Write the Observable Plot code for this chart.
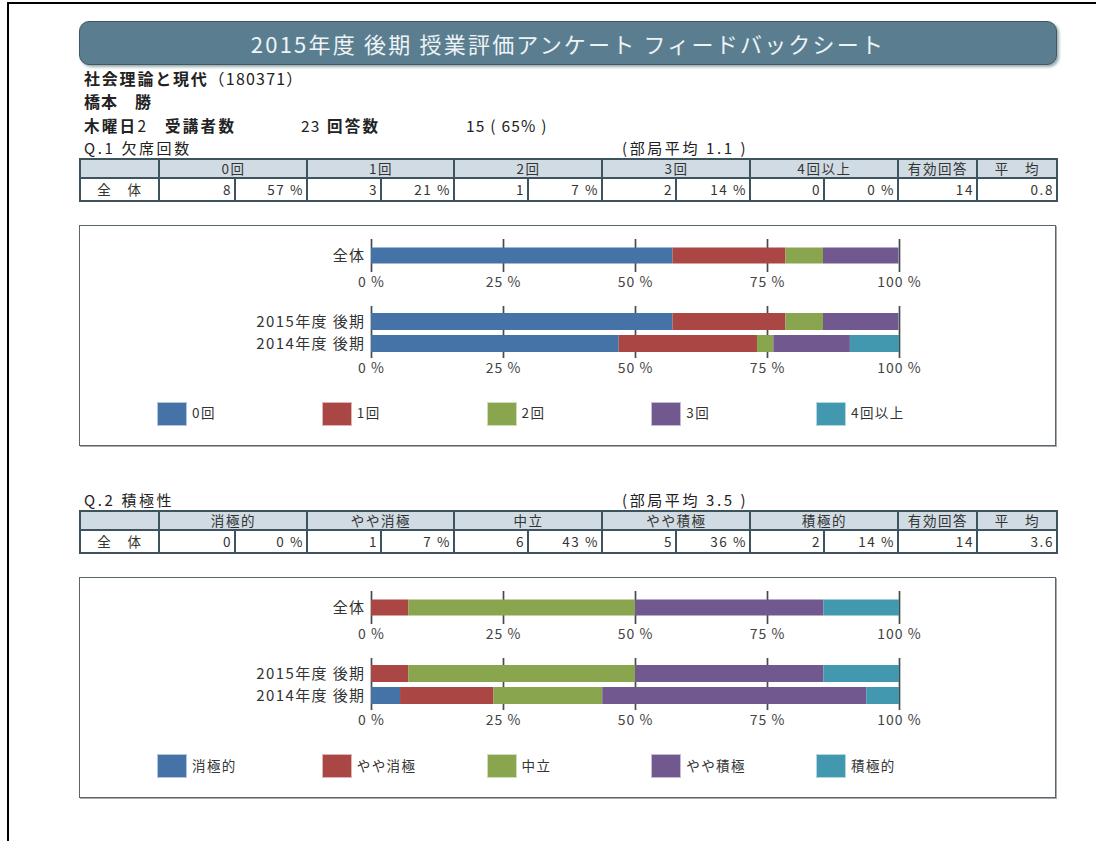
<!DOCTYPE html>
<html><head><meta charset="utf-8">
<script src="https://cdn.jsdelivr.net/npm/d3@7"></script>
<script src="https://cdn.jsdelivr.net/npm/@observablehq/plot@0.6"></script>
<style>
body{margin:0;background:#fff;font-family:"Noto Sans CJK JP","Noto Sans",sans-serif;color:#222;}
#page{position:relative;width:1096px;height:841px;overflow:hidden;background:#fff;}
.abs{position:absolute;white-space:pre;}
.banner{position:absolute;left:79px;top:21px;width:976px;height:42px;border-radius:10px;background:#5a7e8f;border:1.5px solid #3e5966;box-shadow:2px 2px 3px #9aa;color:#eef3f6;font-size:22px;line-height:42px;text-align:center;letter-spacing:2.2px;}
.ls{letter-spacing:1.8px;}
.ls2{letter-spacing:2.3px;}
.code{letter-spacing:1.2px;}
table.q{position:absolute;left:79px;border-collapse:collapse;table-layout:fixed;font-size:13.5px;color:#333;letter-spacing:1.6px;}
table.q td{border:2px solid #3d535e;padding:0 2px 0 3px;overflow:hidden;white-space:nowrap;}
table.q tr.h td{background:#d1dbe3;height:17px;text-align:center;line-height:17px;}
table.q tr.d td{background:#fff;height:21px;text-align:right;line-height:21px;}
table.q tr.d td.lab{text-align:center;}
.box{position:absolute;left:79px;width:975px;border:1.5px solid #58656c;box-shadow:1px 1px 0 #aaa;background:#fff;}
.sw{position:absolute;width:28px;height:22px;border:1px solid rgba(255,255,255,0.6);}
</style></head>
<body><div id="page"></div>
<script>
// ---------- data ----------
const titleText = "2015年度 後期 授業評価アンケート フィードバックシート";
const courseName = "社会理論と現代";
const courseCode = "（180371）";
const teacher = "橋本　勝";
const dayPeriod = ["木曜日", "2"];
const enrolledLabel = "受講者数";
const enrolled = 23;
const respondLabel = "回答数";
const responded = 15;
const respondRate = 65;

const overallLabel = "全体";
const tableRowLabel = "全　体";
const termLabels = ["2015年度 後期", "2014年度 後期"];
const xTicks = [0, 25, 50, 75, 100];
const palette = ["#4572a7", "#aa4643", "#89a54e", "#71588f", "#4198af"];

const q1Title = "Q.1 欠席回数";
const q1DeptMean = "1.1";
const q1Categories = ["0回", "1回", "2回", "3回", "4回以上"];
const q1Counts = [8, 3, 1, 2, 0];
const q1Percents = [57, 21, 7, 14, 0];
const q1Valid = 14;
const q1Mean = "0.8";
const q1Overall = [57.1, 21.4, 7.1, 14.3, 0];
const q1Term2015 = [57.1, 21.4, 7.1, 14.3, 0];
const q1Term2014 = [46.9, 26.2, 3.1, 14.5, 9.3];

const q2Title = "Q.2 積極性";
const q2DeptMean = "3.5";
const q2Categories = ["消極的", "やや消極", "中立", "やや積極", "積極的"];
const q2Counts = [0, 1, 6, 5, 2];
const q2Percents = [0, 7, 43, 36, 14];
const q2Valid = 14;
const q2Mean = "3.6";
const q2Overall = [0, 7.1, 42.9, 35.7, 14.3];
const q2Term2015 = [0, 7.1, 42.9, 35.7, 14.3];
const q2Term2014 = [5.5, 17.7, 20.6, 50.0, 6.2];

const validLabel = "有効回答";
const meanLabel = "平　均";

// ---------- layout helpers ----------
const page = document.getElementById("page");
function el(tag, cls, css, html) {
  const e = document.createElement(tag);
  if (cls) e.className = cls;
  if (css) Object.assign(e.style, css);
  if (html != null) e.innerHTML = html;
  page.appendChild(e);
  return e;
}
function text(x, yc, str, size, weight, extra) {
  return el("div", "abs", Object.assign({left: x + "px", top: (yc - size * 0.6) + "px", fontSize: size + "px", lineHeight: (size * 1.2) + "px", fontWeight: weight || 400}, extra || {}), str);
}

// page frame lines
el("div", null, {position: "absolute", left: "7px", top: "2px", width: "1089px", height: "2px", background: "#000"});
el("div", null, {position: "absolute", left: "7px", top: "2px", width: "2px", height: "839px", background: "#000"});

// banner
el("div", "banner", null, titleText);

// header info
text(84, 78.5, `<b class="ls">${courseName}</b><span class="code">${courseCode}</span>`, 16, 400);
text(84, 102, teacher, 16, 700, {letterSpacing: "1px"});
text(84, 125.5, `<b class="ls2">${dayPeriod[0]}</b>${dayPeriod[1]}`, 15.5, 400);
text(165, 125.5, enrolledLabel, 15.5, 700, {letterSpacing: "2.3px"});
text(301, 125.5, String(enrolled), 15.5, 400, {letterSpacing: "1.2px"});
text(327, 125.5, respondLabel, 15.5, 700, {letterSpacing: "2.3px"});
text(466, 125.5, `${responded} ( ${respondRate}% )`, 15.5, 400, {letterSpacing: "1.2px"});

const font = "'Noto Sans CJK JP', sans-serif";

function barPlot(rows, labels, frameH, yPad, inset) {
  const data = [];
  labels.forEach((lab, j) => rows[j].forEach((v, i) => data.push({label: lab, cat: i, value: v})));
  const svg = Plot.plot({
    width: 1096,
    height: 4 + frameH + 26,
    marginTop: 4, marginBottom: 26, marginLeft: 371, marginRight: 197,
    x: {domain: [0, 100], axis: null},
    y: {domain: labels, axis: null, paddingInner: yPad[0], paddingOuter: yPad[1]},
    color: {domain: [0, 1, 2, 3, 4], range: palette, type: "ordinal"},
    style: {fontFamily: font, background: "transparent", color: "#333", overflow: "visible"},
    marks: [
      Plot.ruleX(xTicks, {stroke: "#454a4d", strokeWidth: 1.7}),
      Plot.barX(data, Plot.stackX({x: "value", y: "label", fill: "cat", insetTop: inset, insetBottom: inset})),
      Plot.text(labels, {x: 0, y: d => d, text: d => d, dx: -6, textAnchor: "end", fontSize: 15, fill: "#333"}),
      Plot.text(xTicks, {x: d => d, text: d => d + " %", frameAnchor: "bottom", dy: 14, fontSize: 14, fill: "#444"})
    ]
  });
  const texts = svg.querySelectorAll('g[aria-label="text"]');
  if (texts[0]) texts[0].style.letterSpacing = "1.4px";
  if (texts[1]) texts[1].style.letterSpacing = "1px";
  svg.style.position = "absolute";
  svg.style.left = "0px";
  return svg;
}

function section(q, titleY) {
  text(84, titleY, q.title, 15, 400, {letterSpacing: "2.6px"});
  text(622, titleY, `(部局平均 ${q.dept} )`, 15, 400, {letterSpacing: "2.6px"});

  // table
  const tbl = el("table", "q", {top: (titleY + 10) + "px"});
  const widths = [79, 76, 72, 74, 73, 74, 74, 74, 74, 74, 74, 79, 80];
  const cg = document.createElement("colgroup");
  widths.forEach(w => { const c = document.createElement("col"); c.style.width = w + "px"; cg.appendChild(c); });
  tbl.appendChild(cg);
  const h = document.createElement("tr"); h.className = "h";
  h.innerHTML = `<td></td>` + q.cats.map(c => `<td colspan="2">${c}</td>`).join("") + `<td>${validLabel}</td><td>${meanLabel}</td>`;
  tbl.appendChild(h);
  const d = document.createElement("tr"); d.className = "d";
  d.innerHTML = `<td class="lab">${tableRowLabel}</td>` + q.cats.map((c, i) => `<td>${q.counts[i]}</td><td>${q.pcts[i]} %</td>`).join("") + `<td>${q.valid}</td><td>${q.mean}</td>`;
  tbl.appendChild(d);

  // chart box
  const boxTop = titleY + 77;
  el("div", "box", {top: boxTop + "px", height: "219px"});
  const p1 = barPlot([q.overall], [overallLabel], 33, [0, 0], 8.5);
  p1.style.top = (boxTop + 10) + "px";
  page.appendChild(p1);
  const p2 = barPlot([q.t2015, q.t2014], termLabels, 52, [0.25, 0.3], 0);
  p2.style.top = (boxTop + 77) + "px";
  page.appendChild(p2);

  // legend
  q.cats.forEach((c, i) => {
    const x = 157 + i * 164.75;
    el("div", "sw", {left: x + "px", top: (boxTop + 177) + "px", background: palette[i]});
    text(x + 35, boxTop + 188, c, 13.5, 400, {color: "#333", letterSpacing: "1.4px"});
  });
}

section({title: q1Title, dept: q1DeptMean, cats: q1Categories, counts: q1Counts, pcts: q1Percents, valid: q1Valid, mean: q1Mean, overall: q1Overall, t2015: q1Term2015, t2014: q1Term2014}, 147.5);
section({title: q2Title, dept: q2DeptMean, cats: q2Categories, counts: q2Counts, pcts: q2Percents, valid: q2Valid, mean: q2Mean, overall: q2Overall, t2015: q2Term2015, t2014: q2Term2014}, 500);
</script>
</body></html>
